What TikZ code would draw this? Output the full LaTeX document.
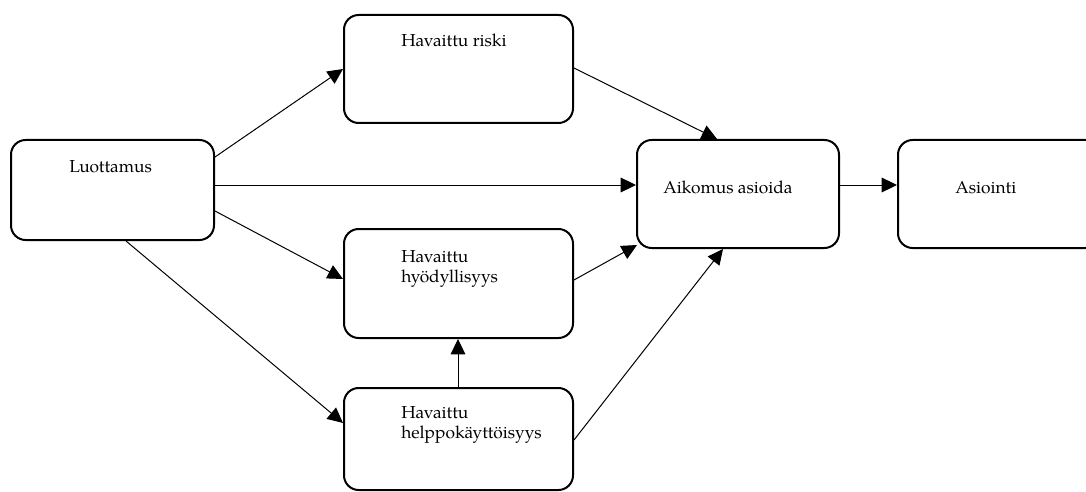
\documentclass[tikz,border=0pt]{standalone}
\usepackage{fontspec}
\setmainfont{TeX Gyre Pagella}
\usetikzlibrary{arrows.meta,calc}

\tikzset{
  box/.style={draw, line width=1.5pt, rounded corners=11pt, rectangle,
    inner sep=0pt, anchor=north west},
  lbl/.style={inner sep=0pt, anchor=base west,
    font=\fontsize{13pt}{15pt}\selectfont},
  link/.style={line width=0.75pt, -{Triangle[length=11.5pt,width=11pt]}},
}
\newcommand{\twolines}[2]{\begin{tabular}[t]{@{}l@{}}#1\\#2\end{tabular}}

\begin{document}
\begin{tikzpicture}[x=0.75pt, y=-0.75pt]
  \clip (0,0) rectangle (1086,492);

  % boxes
  \node[box, minimum width=203*0.75pt, minimum height=100*0.75pt] (luot) at (10,139) {};
  \node[box, minimum width=229*0.75pt, minimum height=108*0.75pt] (riski) at (343,14) {};
  \node[box, minimum width=229*0.75pt, minimum height=109*0.75pt] (hyod) at (343,228) {};
  \node[box, minimum width=229*0.75pt, minimum height=102*0.75pt] (help) at (343,387) {};
  \node[box, minimum width=202*0.75pt, minimum height=108*0.75pt] (aik) at (636,139) {};
  \node[box, minimum width=202*0.75pt, minimum height=108*0.75pt] (asi) at (897,139) {};

  % labels
  \node[lbl] (tluot) at ($(luot.north west)+(59,33)$) {Luottamus};
  \node[lbl] (triski) at ($(riski.north west)+(58,33)$) {Havaittu riski};
  \node[lbl] (thyod) at ($(hyod.north west)+(58,34)$) {\twolines{Havaittu}{hyödyllisyys}};
  \node[lbl] (thelp) at ($(help.north west)+(58,31)$) {\twolines{Havaittu}{helppokäyttöisyys}};
  \node[lbl] (taik) at ($(aik.north west)+(27,54)$) {Aikomus asioida};
  \node[lbl] (tasi) at ($(asi.north west)+(58,54)$) {Asiointi};

  % connectors
  \draw[link] ($(luot.north east)+(0,18)$) -- ($(riski.north west)+(0,55)$);
  \draw[link] ($(luot.north east)+(0,46)$) -- ($(aik.north west)+(0,46)$);
  \draw[link] ($(luot.north east)+(0,72)$) -- ($(hyod.north west)+(0,51)$);
  \draw[link] ($(luot.south west)+(116,0)$) -- ($(help.north west)+(0,36)$);
  \draw[link] ($(riski.north east)+(0,54)$) -- ($(aik.north west)+(81,0)$);
  \draw[link] ($(hyod.north east)+(0,52)$) -- ($(aik.south west)+(1,-4)$);
  \draw[link] ($(help.north east)+(0,53)$) -- ($(aik.south west)+(87,0)$);
  \draw[link] ($(help.north west)+(115,0)$) -- ($(hyod.south west)+(115,0)$);
  \draw[link] ($(aik.north east)+(0,46)$) -- ($(asi.north west)+(0,46)$);
\end{tikzpicture}
\end{document}
